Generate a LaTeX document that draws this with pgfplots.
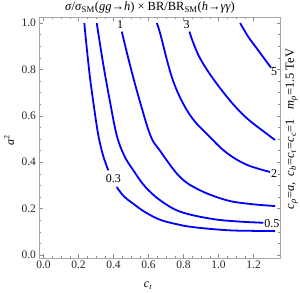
\documentclass[border=0pt]{standalone}
\usepackage{fontspec}
\setmainfont{Liberation Serif}
\usepackage{pgfplots}
\pgfplotsset{compat=1.18}
\pgfplotsset{contour/.style={color=blue, line width=1.8pt, mark=none, smooth, tension=0.6}}
\begin{document}
\begin{tikzpicture}[x=1pt,y=1pt]
\begin{axis}[
  at={(0,0)}, anchor=south west,
  scale only axis, width=240.5pt, height=240.5pt,
  xmin=-0.0229, xmax=1.351, ymin=-0.0129, ymax=1.0237,
  xtick={0,0.2,0.4,0.6,0.8,1.0,1.2}, ytick={0,0.2,0.4,0.6,0.8,1.0},
  minor x tick num=3, minor y tick num=3,
  tick align=inside,
  major tick length=3.5pt, minor tick length=2pt,
  axis line style={black!35, line width=0.9pt},
  every tick/.style={black!45, line width=0.5pt},
  tick label style={font=\fontsize{11.5}{13}\selectfont, text=black!85},
  xticklabel style={yshift=1pt},
  /pgf/number format/assume math mode=true,
  /pgf/number format/fixed, /pgf/number format/fixed zerofill, /pgf/number format/precision=1,
]
% contour 0.3
\addplot[contour] coordinates {(0.233,1.0) (0.246,0.9) (0.266,0.762) (0.290,0.63) (0.313,0.517) (0.340,0.43) (0.370,0.365)};
\addplot[contour] coordinates {(0.418,0.293) (0.460,0.252) (0.513,0.221) (0.580,0.185) (0.666,0.152) (0.760,0.133) (0.856,0.120) (1.047,0.107) (1.200,0.104) (1.323,0.103)};
% contour 0.5
\addplot[contour] coordinates {(0.304,1.0) (0.342,0.819) (0.380,0.66) (0.418,0.517) (0.460,0.43) (0.513,0.365) (0.580,0.295) (0.666,0.236) (0.780,0.187) (0.951,0.157) (1.100,0.145) (1.256,0.139)};
% contour 1
\addplot[contour] coordinates {(0.447,0.963) (0.494,0.819) (0.551,0.661) (0.612,0.513) (0.666,0.449) (0.780,0.336) (0.894,0.279) (1.047,0.236) (1.180,0.220) (1.323,0.211)};
% contour 2
\addplot[contour] coordinates {(0.647,1.0) (0.666,0.956) (0.742,0.747) (0.837,0.603) (0.949,0.51) (1.047,0.440) (1.161,0.389) (1.294,0.358)};
% contour 3
\addplot[contour] coordinates {(0.833,0.963) (0.894,0.848) (1.009,0.719) (1.142,0.603) (1.285,0.517) (1.323,0.496)};
% contour 5
\addplot[contour] coordinates {(1.123,1.0) (1.170,0.94) (1.218,0.891) (1.30,0.807)};
% contour labels
\node[font=\fontsize{12}{13}\selectfont] at (axis cs:0.437,0.994) {1};
\node[font=\fontsize{12}{13}\selectfont] at (axis cs:0.818,0.994) {3};
\node[font=\fontsize{12}{13}\selectfont] at (axis cs:1.317,0.79) {5};
\node[font=\fontsize{12}{13}\selectfont] at (axis cs:1.317,0.353) {2};
\node[font=\fontsize{12}{13}\selectfont] at (axis cs:1.304,0.135) {0.5};
\node[font=\fontsize{12}{13}\selectfont] at (axis cs:0.399,0.329) {0.3};
\end{axis}
% title and labels
\node[font=\fontsize{12.5}{14}\selectfont] at (110.5,250.5) {\textit{σ}/\textit{σ}\textsubscript{SM}(\textit{gg}→\textit{h}) × BR/BR\textsubscript{SM}(\textit{h}→\textit{γγ})};
\node[font=\fontsize{12}{13}\selectfont, rotate=90] at (-30.5,118) {\textit{a}\textsuperscript{2}};
\node[font=\fontsize{12}{13}\selectfont] at (108.5,-27.7) {\textit{c\textsubscript{t}}};
\node[font=\fontsize{12.5}{14}\selectfont, rotate=90] at (252.2,129) {\textit{c}\textsubscript{\textit{ρ}}=\textit{a},\ \ \textit{c}\textsubscript{\textit{b}}=\textit{c}\textsubscript{\textit{τ}}=\textit{c}\textsubscript{\textit{c}}=1\ \ \ \textit{m}\textsubscript{\textit{ρ}}=1.5 TeV};
\pgfresetboundingbox
\useasboundingbox (-39.5,-34) rectangle (260.5,258);
\end{tikzpicture}
\end{document}
